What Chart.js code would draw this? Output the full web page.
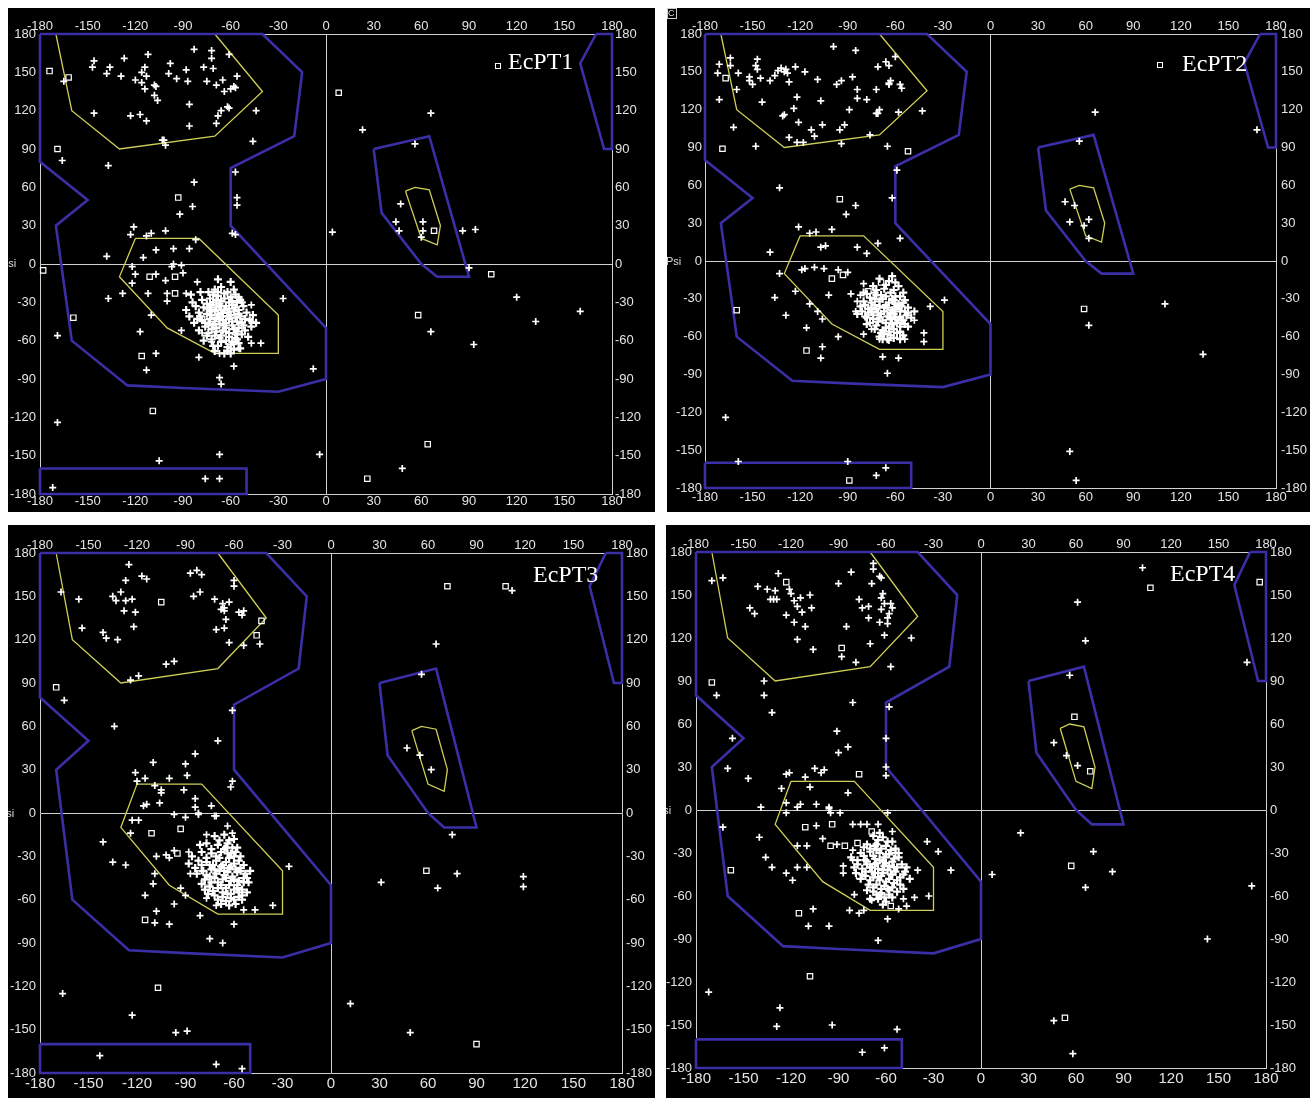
<!DOCTYPE html>
<html>
<head>
<meta charset="utf-8">
<title>EcPT Ramachandran plots</title>
<script src="https://cdn.jsdelivr.net/npm/chart.js@4.4.0/dist/chart.umd.min.js"></script>
<style>
  html, body { margin: 0; padding: 0; background: #fff; }
  body { width: 1310px; height: 1100px; position: relative; overflow: hidden; }
  .panel { position: absolute; background: #000; overflow: hidden; }
  .panel canvas { position: absolute; left: 0; top: 0; }
  .tag { position: absolute; color: #fff; font-family: 'Liberation Serif', 'Times New Roman', serif; font-size: 24px; line-height: 24px; white-space: nowrap; }
  .key { position: absolute; width: 4px; height: 4px; border: 1px solid #fff; }
  .psi { position: absolute; color: #ddd; font-family: 'Liberation Sans Narrow', 'Liberation Sans', sans-serif; font-size: 11px; line-height: 11px; }
  .corner { position: absolute; left: 0; top: 0; width: 8px; height: 9px; border: 1px solid #ccc; color: #ddd; font: 9px/9px 'Liberation Sans', sans-serif; }
</style>
</head>
<body>
<script>
// ---------- Data (phi, psi in degrees) ----------
const tickValues = [-180, -150, -120, -90, -60, -30, 0, 30, 60, 90, 120, 150, 180];

// allowed regions (blue) and core regions (yellow)
const allowedRegions = [
  [[-180, 180], [-40, 180], [-15, 150], [-20, 100], [-60, 75], [-60, 30], [0, -50], [0, -90], [-30, -100], [-90, -97], [-125, -95], [-160, -60], [-170, 30], [-150, 50], [-180, 80], [-180, 180]],
  [[-180, -160], [-50, -160], [-50, -180], [-180, -180], [-180, -160]],
  [[30, 90], [65, 100], [90, -10], [70, -10], [60, 0], [35, 40], [30, 90]],
  [[170, 180], [180, 180], [180, 90], [175, 90], [160, 157], [170, 180]]
];
const coreRegions = [
  [[-170, 180], [-160, 120], [-130, 90], [-70, 100], [-40, 135], [-70, 180], [-170, 180]],
  [[-120, 20], [-80, 20], [-30, -40], [-30, -70], [-70, -70], [-100, -50], [-130, -10], [-120, 20]],
  [[50, 57], [56, 60], [65, 58], [72, 30], [70, 15], [60, 20], [50, 57]]
];

// EcPT1
const ecpt1Plus = [
  [-83, 168], [-72, 167], [-72, 161], [-112, 164], [-127, 161], [-146, 159], [-147, 154], [-136, 154], [-138, 149], [-129, 147],
  [-120, 144], [-116, 150], [-114, 154], [-113, 147], [-116, 142], [-114, 137], [-108, 140], [-107, 139], [-108, 132], [-106, 128],
  [-98, 157], [-99, 149], [-94, 145], [-88, 152], [-87, 143], [-77, 154], [-75, 143], [-71, 153], [-69, 140], [-65, 144],
  [-61, 164], [-64, 135], [-58, 139], [-60, 137], [-56, 147], [-57, 138], [-66, 120], [-61, 122], [-62, 123], [-68, 116],
  [-69, 110], [-44, 120], [-46, 96], [-86, 125], [-86, 108], [-123, 116], [-117, 117], [-113, 112], [-146, 118], [-103, 97],
  [-101, 93], [-102, 97], [-137, 77], [-166, 81], [-165, 143],
  [-83, 64], [-84, 45], [-92, 39], [-57, 72], [-56, 52], [-56, 46], [-59, 24], [-57, 23], [-121, 29], [-123, 23],
  [-113, 22], [-110, 24], [-101, 26], [-138, 6], [-115, 5], [-107, 11], [-96, 12], [-86, 12], [-82, 19],
  [-122, -2], [-120, -8], [-122, -15], [-107, -8], [-101, -13], [-96, 0], [-97, -2], [-91, -1], [-90, -7], [-128, -23],
  [-112, -23], [-100, -23], [-100, -29], [-137, -27], [-88, -23], [-81, -14], [-110, -40], [-117, -53], [-107, -70], [-113, -83],
  [-91, -52], [-80, -73], [-169, -56], [-169, -124], [-105, -154], [-67, -149], [-76, -168], [-67, -168], [-172, -175], [-58, -80],
  [-67, -89], [-66, -94], [-8, -82], [-4, -149], [-27, -27], [-41, -62], [-47, -62], [-58, -63], [-72, -61], [-78, -54],
  [-67, -70], [-60, -66], [-55, -66], [-47, -32], [-47, -45],
  [23, 105], [66, 118], [56, 94], [47, 47], [44, 33], [46, 26], [61, 33], [61, 26], [60, 21], [86, 26],
  [94, 27], [4, 25], [90, -3], [120, -26], [132, -45], [160, -37], [66, -53], [93, -63], [48, -160]
];
const ecpt1Cluster = [
  [-74, -22], [-70, -20], [-66, -18], [-62, -22], [-58, -20], [-55, -26], [-78, -28], [-73, -27], [-68, -25], [-64, -27],
  [-60, -26], [-56, -30], [-52, -33], [-82, -33], [-77, -34], [-72, -32], [-67, -31], [-63, -33], [-59, -32], [-55, -36],
  [-50, -38], [-80, -38], [-75, -39], [-70, -37], [-66, -36], [-62, -38], [-58, -37], [-54, -41], [-48, -44], [-78, -44],
  [-73, -43], [-69, -42], [-65, -41], [-61, -43], [-57, -42], [-53, -46], [-76, -49], [-71, -48], [-67, -47], [-63, -46],
  [-59, -48], [-55, -50], [-51, -52], [-74, -54], [-69, -53], [-65, -52], [-61, -54], [-57, -55], [-72, -59], [-67, -58],
  [-63, -60], [-59, -61], [-55, -62], [-68, -64], [-62, -65], [-58, -67], [-84, -30], [-86, -41], [-88, -36], [-46, -40],
  [-47, -49], [-60, -14], [-68, -12], [-64, -70], [-70, -68], [-80, -52], [-83, -46], [-49, -57], [-77, -60], [-71, -30],
  [-65, -44], [-60, -40], [-68, -39], [-63, -50], [-56, -45], [-74, -47], [-66, -56], [-61, -35], [-69, -34], [-57, -58],
  [-53, -30], [-79, -22], [-54, -66], [-60, -70], [-85, -24], [-44, -46], [-66, -29], [-72, -51],
  [-71, -24], [-64, -23], [-57, -24], [-75, -31], [-69, -28], [-61, -30], [-54, -28], [-79, -41], [-73, -36], [-65, -38],
  [-57, -34], [-51, -43], [-76, -46], [-70, -45], [-62, -41], [-55, -39], [-59, -45], [-67, -43], [-72, -40], [-64, -48],
  [-58, -51], [-53, -55], [-69, -50], [-75, -56], [-61, -57], [-66, -61], [-70, -56], [-56, -59], [-63, -53], [-60, -63],
  [-67, -33], [-74, -35], [-52, -48], [-59, -29], [-81, -43], [-64, -36], [-56, -53], [-71, -64], [-62, -68], [-68, -22]
];
const ecpt1Square = [
  [-174, 151], [-169, 90], [-162, 146], [-93, 52], [-178, -5], [-159, -42], [-116, -72], [-111, -10], [-95, -10], [-95, -23],
  [-109, -115], [-78, -43], [8, 134], [68, 26], [104, -8], [58, -40], [64, -141], [26, -168]
];

// EcPT2
const ecpt2Plus = [
  [-99, 170], [-85, 167], [-171, 156], [-164, 161], [-164, 155], [-172, 149], [-159, 149], [-152, 146], [-152, 143], [-147, 160],
  [-148, 155], [-147, 152], [-145, 145], [-150, 140], [-160, 136], [-144, 126], [-171, 128], [-162, 106], [-148, 91], [-139, 143],
  [-136, 147], [-134, 151], [-132, 153], [-130, 150], [-129, 152], [-128, 149], [-127, 142], [-123, 154], [-117, 150], [-122, 130],
  [-109, 144], [-107, 127], [-124, 121], [-130, 116], [-131, 115], [-121, 110], [-127, 98], [-122, 94], [-118, 94], [-113, 104],
  [-111, 99], [-106, 108], [-97, 140], [-94, 143], [-87, 146], [-84, 136], [-84, 129], [-78, 128], [-89, 120], [-92, 108],
  [-95, 104], [-94, 93], [-72, 136], [-71, 154], [-66, 158], [-64, 155], [-63, 143], [-64, 141], [-64, 140], [-60, 162],
  [-57, 140], [-56, 137], [-72, 117], [-71, 117], [-70, 120], [-58, 118], [-43, 119], [-76, 100], [-65, 91], [-59, 72],
  [-133, 58], [-85, 44], [-91, 37], [-62, 50], [-121, 27], [-114, 22], [-110, 23], [-100, 25], [-107, 11], [-104, 12],
  [-84, 11], [-78, 6], [-71, 14], [-57, 18], [-139, 7],
  [-133, -10], [-119, -7], [-117, -6], [-111, -5], [-105, -6], [-96, -7], [-90, -9], [-123, -24], [-136, -29], [-129, -43],
  [-116, -53], [-114, -34], [-109, -40], [-106, -46], [-102, -27], [-96, -60], [-106, -68], [-107, -77], [-68, -76], [-58, -77],
  [-65, -89], [-80, -58], [-75, -54], [-70, -62], [-64, -63], [-54, -62], [-48, -47], [-42, -57], [-42, -64], [-38, -36],
  [-29, -31], [-88, -26], [-84, -32], [-85, -40], [-82, -27], [-80, -18], [-159, -159], [-90, -159], [-167, -124], [-72, -170],
  [-66, -164],
  [66, 118], [56, 95], [168, 104], [47, 47], [53, 44], [50, 31], [62, 33], [59, 28], [62, 18], [110, -34],
  [62, -51], [134, -74], [50, -151], [54, -174]
];
const ecpt2Cluster = [
  [-70, -14], [-64, -16], [-58, -20], [-74, -20], [-67, -22], [-61, -23], [-55, -25], [-78, -26], [-72, -27], [-66, -28],
  [-60, -28], [-54, -31], [-80, -32], [-75, -33], [-70, -32], [-64, -33], [-58, -34], [-52, -37], [-77, -38], [-72, -38],
  [-67, -37], [-62, -39], [-57, -40], [-53, -43], [-79, -44], [-74, -43], [-69, -42], [-65, -44], [-60, -45], [-55, -47],
  [-76, -49], [-71, -48], [-66, -49], [-62, -50], [-57, -52], [-73, -54], [-68, -55], [-64, -56], [-59, -57], [-55, -59],
  [-70, -60], [-65, -62], [-61, -61], [-82, -36], [-84, -42], [-50, -45], [-52, -52], [-68, -30], [-63, -41], [-58, -47],
  [-70, -45], [-66, -35], [-61, -31], [-75, -40], [-56, -36], [-64, -52], [-60, -38], [-73, -30], [-67, -58], [-78, -50],
  [-48, -40], [-80, -25], [-62, -12], [-57, -62],
  [-66, -19], [-60, -17], [-72, -23], [-63, -25], [-57, -28], [-76, -29], [-69, -27], [-62, -30], [-55, -33], [-79, -35],
  [-73, -35], [-65, -37], [-59, -36], [-54, -40], [-77, -41], [-71, -41], [-67, -40], [-61, -42], [-57, -44], [-74, -46],
  [-68, -47], [-63, -46], [-59, -49], [-54, -50], [-72, -51], [-66, -53], [-61, -54], [-57, -56], [-69, -57], [-63, -59],
  [-75, -37], [-81, -40], [-52, -41], [-60, -34], [-70, -36], [-64, -44], [-78, -45], [-68, -62], [-56, -47], [-73, -25]
];
const ecpt2Square = [
  [-167, 145], [-169, 89], [-95, 49], [-52, 87], [-160, -39], [-116, -71], [-100, -14], [-93, -11], [-69, -17], [-77, -24],
  [-76, -47], [-57, -59], [-89, -174], [59, -38]
];

// EcPT3
const ecpt3Plus = [
  [-125, 172], [-117, 164], [-114, 162], [-127, 161], [-130, 153], [-135, 150], [-133, 147], [-127, 147], [-123, 148], [-128, 140],
  [-121, 139], [-122, 129], [-132, 120], [-139, 121], [-141, 125], [-154, 128], [-156, 148], [-167, 153], [-102, 103], [-97, 105],
  [-119, 95], [-124, 92], [-165, 78], [-134, 60], [-87, 166], [-83, 168], [-80, 165], [-81, 153], [-85, 150], [-72, 148],
  [-67, 145], [-63, 146], [-68, 141], [-66, 140], [-66, 142], [-60, 161], [-60, 157], [-65, 134], [-71, 127], [-66, 128],
  [-57, 139], [-55, 137], [-54, 140], [-63, 118], [-54, 116], [-44, 117], [-61, 71], [-70, 50], [-84, 41], [-90, 34],
  [-89, 26], [-100, 24], [-110, 35], [-121, 28], [-120, 22], [-115, 24], [-109, 19], [-105, 16], [-105, 14], [-91, 16],
  [-84, 10], [-84, 4], [-82, -1], [-74, 5], [-71, -2], [-114, 6], [-116, 5], [-106, 7], [-61, 22], [-62, 18],
  [-123, -5], [-119, -5], [-124, -14], [-141, -20], [-135, -34], [-127, -36], [-108, -30], [-102, -29], [-100, -31], [-97, -26],
  [-88, -27], [-109, -42], [-110, -49], [-115, -57], [-93, -52], [-90, -57], [-97, -63], [-81, -71], [-108, -68], [-109, -76],
  [-100, -77], [-60, -77], [-75, -87], [-67, -90], [-36, -64], [-54, -67], [-47, -67], [-26, -37], [-166, -125], [-123, -140],
  [-96, -152], [-89, -151], [-143, -168], [-71, -174], [-55, -177], [-97, -1], [-90, -3], [-82, 0], [-64, -9], [-77, -15],
  [-61, -14], [-87, -42], [-80, -40], [-77, -59], [-71, -64], [-72, -2],
  [112, 154], [65, 117], [56, 96], [47, 45], [55, 40], [62, 30], [75, -15], [78, -42], [66, -52], [31, -48],
  [119, -44], [119, -51], [12, -132], [49, -152]
];
const ecpt3Cluster = [
  [-72, -16], [-66, -15], [-60, -18], [-77, -21], [-70, -22], [-64, -21], [-58, -24], [-80, -27], [-74, -28], [-68, -27],
  [-62, -28], [-56, -30], [-82, -33], [-77, -34], [-71, -33], [-65, -34], [-60, -35], [-54, -36], [-79, -40], [-74, -39],
  [-69, -40], [-64, -41], [-58, -41], [-53, -42], [-78, -46], [-72, -45], [-67, -46], [-62, -47], [-57, -47], [-51, -48],
  [-75, -51], [-70, -52], [-65, -52], [-60, -53], [-55, -53], [-72, -57], [-67, -58], [-62, -59], [-57, -58], [-68, -63],
  [-63, -64], [-59, -63], [-84, -38], [-86, -30], [-50, -40], [-52, -55], [-69, -31], [-63, -38], [-58, -50], [-70, -48],
  [-66, -43], [-61, -44], [-75, -44], [-56, -38], [-64, -56], [-60, -30], [-73, -36], [-67, -36], [-78, -53], [-81, -22],
  [-55, -60], [-65, -24], [-54, -45], [-88, -35],
  [-69, -19], [-63, -19], [-74, -25], [-66, -25], [-59, -27], [-77, -31], [-71, -30], [-63, -31], [-57, -33], [-80, -36],
  [-75, -36], [-68, -37], [-62, -37], [-56, -40], [-77, -43], [-71, -42], [-65, -45], [-60, -46], [-54, -48], [-74, -48],
  [-68, -50], [-63, -50], [-58, -52], [-73, -54], [-67, -55], [-62, -56], [-57, -55], [-70, -60], [-65, -61], [-60, -60],
  [-80, -49], [-83, -42], [-52, -45], [-66, -40], [-72, -39], [-59, -39], [-64, -28], [-55, -57], [-76, -56], [-61, -24]
];
const ecpt3Square = [
  [-105, 146], [-43, 133], [-46, 123], [-170, 87], [-111, -14], [-93, -11], [-95, -28], [-115, -74], [-107, -121], [-77, -48],
  [72, 157], [108, 157], [59, -40], [90, -160]
];

// EcPT4
const ecpt4Plus = [
  [-68, 172], [-68, 168], [-63, 162], [-69, 158], [-82, 166], [-90, 158], [-128, 165], [-141, 156], [-135, 154], [-130, 153],
  [-133, 147], [-131, 147], [-129, 147], [-121, 154], [-120, 151], [-118, 146], [-116, 142], [-114, 148], [-113, 138], [-108, 150],
  [-107, 141], [-123, 136], [-118, 131], [-111, 128], [-116, 119], [-106, 112], [-146, 141], [-143, 137], [-170, 160], [-163, 162],
  [-77, 147], [-75, 141], [-71, 142], [-71, 134], [-70, 116], [-79, 103], [-88, 107], [-85, 128], [-64, 163], [-62, 151],
  [-63, 148], [-61, 144], [-57, 144], [-56, 141], [-58, 137], [-59, 134], [-59, 130], [-63, 140], [-64, 131], [-61, 122],
  [-44, 120], [-57, 100], [-137, 90], [-137, 80], [-132, 68], [-167, 80], [-157, 50], [-160, 29], [-147, 22], [-81, 75],
  [-58, 72], [-60, 50], [-91, 55], [-84, 44], [-90, 40], [-60, 30], [-60, 24], [-123, 25], [-121, 26], [-111, 23],
  [-105, 29], [-101, 26], [-99, 28], [-108, 16], [-126, 15], [-84, 12], [-123, 5], [-114, 4], [-116, 2], [-104, 4],
  [-96, 2], [-95, -2], [-89, -2], [-139, 2], [-123, -2], [-59, -2],
  [-163, -12], [-140, -19], [-136, -33], [-132, -40], [-123, -44], [-119, -49], [-116, -40], [-116, -25], [-110, -25], [-110, -40],
  [-106, -69], [-109, -81], [-96, -81], [-104, -11], [-100, -20], [-91, -24], [-81, -28], [-81, -35], [-87, -39], [-87, -44],
  [-80, -59], [-83, -70], [-77, -72], [-74, -70], [-69, -63], [-64, -59], [-59, -76], [-65, -91], [-52, -69], [-47, -67],
  [-49, -62], [-42, -61], [-33, -60], [-40, -42], [-34, -22], [-27, -29], [-19, -42], [7, -45], [-81, -10], [-76, -10],
  [-72, -10], [-65, -10], [-56, -15], [-172, -127], [-127, -138], [-129, -151], [-94, -150], [-53, -153], [-75, -169], [-61, -166],
  [-96, 1],
  [102, 169], [168, 103], [61, 145], [66, 118], [56, 94], [46, 47], [54, 38], [61, 31], [25, -16], [71, -29],
  [83, -43], [66, -54], [143, -90], [171, -53], [46, -147], [58, -170]
];
const ecpt4Cluster = [
  [-68, -18], [-62, -19], [-56, -22], [-72, -24], [-66, -24], [-60, -25], [-54, -27], [-76, -30], [-70, -29], [-64, -30],
  [-58, -31], [-52, -33], [-78, -35], [-73, -35], [-67, -34], [-62, -36], [-56, -36], [-50, -38], [-75, -41], [-70, -40],
  [-65, -41], [-59, -42], [-54, -43], [-49, -45], [-73, -46], [-68, -47], [-63, -46], [-58, -48], [-53, -49], [-71, -52],
  [-66, -52], [-61, -53], [-56, -54], [-51, -52], [-68, -57], [-63, -58], [-58, -59], [-65, -62], [-60, -64], [-80, -40],
  [-82, -33], [-47, -40], [-49, -55], [-67, -38], [-61, -39], [-57, -45], [-69, -43], [-64, -49], [-60, -31], [-55, -40],
  [-72, -36], [-66, -28], [-59, -55], [-76, -48], [-62, -44], [-52, -30], [-70, -62], [-45, -48], [-74, -26], [-64, -16],
  [-65, -21], [-59, -22], [-70, -27], [-63, -27], [-57, -28], [-74, -32], [-68, -32], [-61, -33], [-55, -34], [-78, -38],
  [-72, -38], [-66, -37], [-60, -37], [-53, -40], [-73, -43], [-67, -44], [-62, -42], [-56, -45], [-51, -47], [-70, -49],
  [-65, -47], [-60, -50], [-55, -51], [-68, -54], [-63, -55], [-58, -56], [-53, -57], [-66, -59], [-61, -61], [-56, -61],
  [-75, -45], [-79, -44], [-48, -43], [-64, -35], [-58, -39], [-69, -40], [-54, -30], [-62, -66], [-72, -56], [-67, -25]
];
const ecpt4Square = [
  [-123, 159], [-88, 113], [-170, 89], [-77, 25], [-111, -12], [-94, -10], [-95, -25], [-86, -25], [-78, -23], [-69, -15],
  [-77, -46], [-115, -72], [-57, -67], [-108, -116], [-158, -42], [107, 155], [176, 159], [59, 65], [69, 27], [57, -39],
  [53, -145]
];

// ---------- Layout ----------
const LABEL_FONT = "'Liberation Sans Narrow', 'Liberation Sans', Arial, sans-serif";
const BLUE = '#3a2fa6';
const YELLOW = '#cfcf58';
const FRAME = '#d2d2d2';

const panels = [
  { name: 'EcPT1', plus: ecpt1Plus, cluster: ecpt1Cluster, square: ecpt1Square,
    left: 8, top: 8, width: 647, height: 504,
    axes: { left: 32, right: 43, top: 26, bottom: 18 },
    font: { top: 13, bottom: 13, left: 13, right: 13 }, pad: { top: 0, bottom: 0, left: 4, right: 3 },
    tag: [500, 41], key: [487, 55], psi: [-7, 250] },
  { name: 'EcPT2', plus: ecpt2Plus, cluster: ecpt2Cluster, square: ecpt2Square,
    left: 667, top: 8, width: 643, height: 504,
    axes: { left: 38, right: 34, top: 26, bottom: 24 },
    font: { top: 13, bottom: 13, left: 13, right: 13 }, pad: { top: 0, bottom: 2, left: 3, right: 5 },
    tag: [515, 43], key: [490, 54], psi: [-1, 248], corner: true },
  { name: 'EcPT3', plus: ecpt3Plus, cluster: ecpt3Cluster, square: ecpt3Square,
    left: 8, top: 525, width: 647, height: 573,
    axes: { left: 32, right: 33, top: 28, bottom: 25 },
    font: { top: 13, bottom: 15, left: 13, right: 13 }, pad: { top: 0, bottom: 2, left: 4, right: 4 },
    tag: [525, 37], psi: [-9, 283] },
  { name: 'EcPT4', plus: ecpt4Plus, cluster: ecpt4Cluster, square: ecpt4Square,
    left: 666, top: 525, width: 644, height: 573,
    axes: { left: 30, right: 44, top: 27, bottom: 30 },
    font: { top: 13, bottom: 15, left: 13, right: 13 }, pad: { top: 0, bottom: 2, left: 4, right: 4 },
    tag: [504, 36], psi: [-10, 280] }
];

function toXY(pairs) {
  return pairs.map(([x, y]) => ({ x, y }));
}

function makeAxis(position, size, fontSize, pad, showZero) {
  const horizontal = position === 'top' || position === 'bottom';
  return {
    type: 'linear',
    axis: horizontal ? 'x' : 'y',
    position,
    min: -180,
    max: 180,
    afterBuildTicks: (s) => { s.ticks = tickValues.map((v) => ({ value: v })); },
    afterFit: (s) => {
      if (horizontal) s.height = size; else s.width = size;
      s.paddingLeft = 0; s.paddingRight = 0; s.paddingTop = 0; s.paddingBottom = 0;
    },
    ticks: {
      color: '#e4e4e4',
      font: { family: LABEL_FONT, size: fontSize },
      padding: pad,
      autoSkip: false,
      maxRotation: 0,
      minRotation: 0,
      callback: (v) => String(v)
    },
    grid: {
      display: showZero,
      drawTicks: false,
      lineWidth: 1,
      color: (c) => (c.tick && c.tick.value === 0 ? FRAME : 'rgba(0,0,0,0)')
    },
    border: { display: true, color: FRAME, width: 1 }
  };
}

function buildDatasets(p) {
  const sets = [
    { data: toXY(p.cluster), pointStyle: 'cross', pointRadius: 4, pointBorderWidth: 2.2,
      borderColor: '#fff', backgroundColor: '#fff', clip: false },
    { data: toXY(p.plus), pointStyle: 'cross', pointRadius: 3.5, pointBorderWidth: 1.7,
      borderColor: '#fff', backgroundColor: '#fff', clip: false },
    { data: toXY(p.square), pointStyle: 'rect', pointRadius: 3.8, pointBorderWidth: 1.2,
      borderColor: '#fff', backgroundColor: 'rgba(0,0,0,0)', clip: false }
  ];
  for (const poly of allowedRegions) {
    sets.push({ data: toXY(poly), showLine: true, pointRadius: 0, borderColor: BLUE, borderWidth: 2.6,
      fill: false, tension: 0, clip: false });
  }
  for (const poly of coreRegions) {
    sets.push({ data: toXY(poly), showLine: true, pointRadius: 0, borderColor: YELLOW, borderWidth: 1.3,
      fill: false, tension: 0, clip: false });
  }
  return sets;
}

for (const p of panels) {
  const box = document.createElement('div');
  box.className = 'panel';
  Object.assign(box.style, { left: p.left + 'px', top: p.top + 'px', width: p.width + 'px', height: p.height + 'px' });
  document.body.appendChild(box);

  const canvas = document.createElement('canvas');
  canvas.width = p.width;
  canvas.height = p.height;
  canvas.style.width = p.width + 'px';
  canvas.style.height = p.height + 'px';
  box.appendChild(canvas);

  new Chart(canvas, {
    type: 'scatter',
    data: { datasets: buildDatasets(p) },
    options: {
      responsive: false,
      animation: false,
      events: [],
      layout: { padding: 0 },
      plugins: { legend: { display: false }, tooltip: { enabled: false } },
      scales: {
        x: makeAxis('bottom', p.axes.bottom, p.font.bottom, p.pad.bottom, true),
        xTop: makeAxis('top', p.axes.top, p.font.top, p.pad.top, false),
        y: makeAxis('left', p.axes.left, p.font.left, p.pad.left, true),
        yRight: makeAxis('right', p.axes.right, p.font.right, p.pad.right, false)
      }
    }
  });

  const tag = document.createElement('div');
  tag.className = 'tag';
  tag.textContent = p.name;
  tag.style.left = p.tag[0] + 'px';
  tag.style.top = p.tag[1] + 'px';
  box.appendChild(tag);

  if (p.key) {
    const key = document.createElement('div');
    key.className = 'key';
    key.style.left = p.key[0] + 'px';
    key.style.top = p.key[1] + 'px';
    box.appendChild(key);
  }

  const psi = document.createElement('div');
  psi.className = 'psi';
  psi.textContent = 'Psi';
  psi.style.left = p.psi[0] + 'px';
  psi.style.top = p.psi[1] + 'px';
  box.appendChild(psi);

  if (p.corner) {
    const c = document.createElement('div');
    c.className = 'corner';
    c.textContent = 'C';
    box.appendChild(c);
  }
}
</script>
</body>
</html>
